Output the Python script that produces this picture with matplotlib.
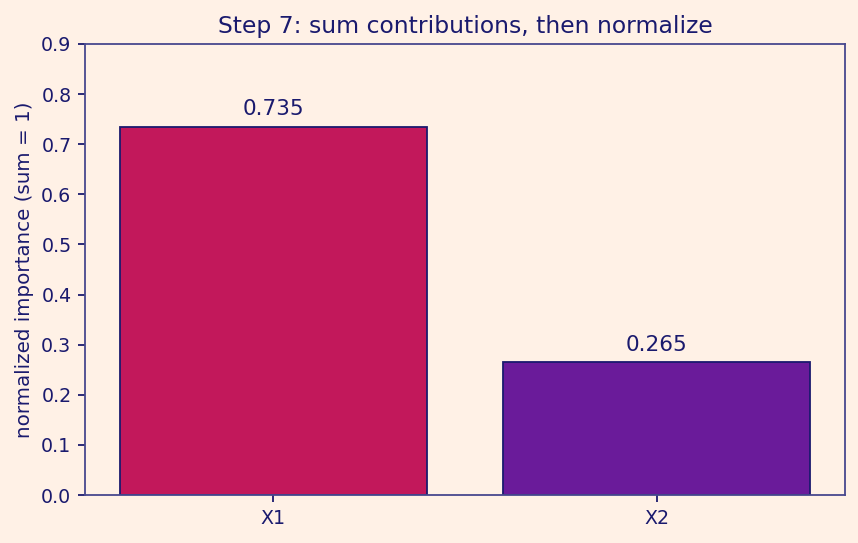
import matplotlib
matplotlib.use("Agg")
import matplotlib.pyplot as plt

categories = ["X1", "X2"]
values = [0.735, 0.265]
labels = ["0.735", "0.265"]
colors = ["#C2185B", "#6A1B9A"]

bg = "#FFF1E6"
ink = "#1A1A6E"
spine = "#48488E"

fig, ax = plt.subplots(figsize=(6.6, 4.177), dpi=130)
fig.patch.set_facecolor(bg)
ax.set_facecolor(bg)

bars = ax.bar(categories, values, width=0.8, color=colors, edgecolor=ink, linewidth=1.0)
for b, lab in zip(bars, labels):
    ax.annotate(lab, (b.get_x() + b.get_width() / 2, b.get_height()),
                xytext=(0, 4), textcoords="offset points", ha="center", va="bottom",
                fontsize=12, color=ink)

ax.set_ylim(0, 0.9)
ax.set_yticks([i / 10 for i in range(10)])
ax.set_title("Step 7: sum contributions, then normalize", fontsize=13, color=ink)
ax.set_ylabel("normalized importance (sum = 1)", fontsize=11, color=ink)
ax.tick_params(colors=ink, labelsize=10.5, length=4, width=1.0)
for s in ax.spines.values():
    s.set_color(spine)
    s.set_linewidth(1.0)

fig.subplots_adjust(left=0.0991, right=0.9848, top=0.919, bottom=0.0884)
fig.savefig("out.png", dpi=130, facecolor=bg)
